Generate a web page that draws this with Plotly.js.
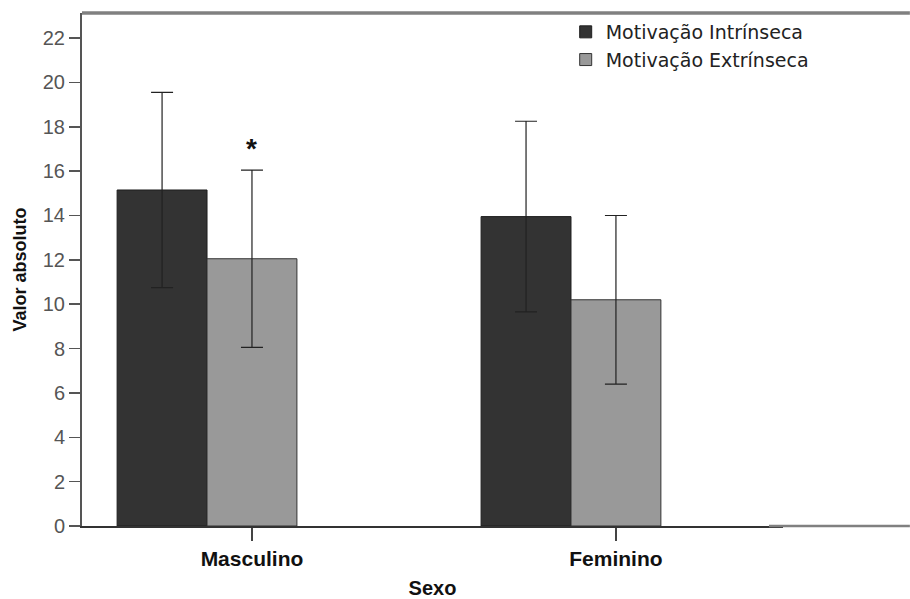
<!DOCTYPE html>
<html>
<head>
<meta charset="utf-8">
<script src="https://cdn.plot.ly/plotly-3.0.1.min.js"></script>
<style>html,body{margin:0;padding:0;background:#fff;}#chart{width:910px;height:599px;}</style>
</head>
<body>
<div id="chart"></div>
<script>
const categories = ["Masculino", "Feminino"];
const seriesNames = ["Motivação Intrínseca", "Motivação Extrínseca"];
const intrinseca = [15.15, 13.95];
const extrinseca = [12.05, 10.2];
const intrinsecaErr = [4.4, 4.3];
const extrinsecaErr = [4.0, 3.8];
const yTicks = [0, 2, 4, 6, 8, 10, 12, 14, 16, 18, 20, 22];
const significance = {category: "Masculino", y: 17.0, text: "*"};

const barW = 0.247;
const errStyle = {type: "data", visible: true, thickness: 1.2, width: 11, color: "#222"};

const traces = [
  {
    type: "bar", name: seriesNames[0], x: categories, y: intrinseca,
    width: barW, offset: -1.5 * barW,
    marker: {color: "#333333", line: {color: "#1e1e1e", width: 1}},
    error_y: Object.assign({array: intrinsecaErr}, errStyle)
  },
  {
    type: "bar", name: seriesNames[1], x: categories, y: extrinseca,
    width: barW, offset: -0.5 * barW,
    marker: {color: "#999999", line: {color: "#333333", width: 1}},
    error_y: Object.assign({array: extrinsecaErr}, errStyle)
  }
];

const layout = {
  width: 910, height: 599,
  margin: {l: 82, r: 127, t: 13, b: 73},
  paper_bgcolor: "#ffffff", plot_bgcolor: "#ffffff",
  barmode: "overlay",
  showlegend: true,
  legend: {
    x: 0.69, y: 1.0, xanchor: "left", yanchor: "top",
    font: {family: "DejaVu Sans, Arial, sans-serif", size: 19, color: "#222"},
    bgcolor: "rgba(0,0,0,0)", tracegroupgap: 0, itemwidth: 30
  },
  xaxis: {
    type: "category", range: [-0.467, 1.459],
    showline: true, linecolor: "#333", linewidth: 1.5,
    ticks: "outside", ticklen: 13, tickwidth: 1.5, tickcolor: "#444",
    tickfont: {family: "Liberation Sans, Arial, sans-serif", size: 21, color: "#111", weight: "bold"},
    showgrid: false, zeroline: false,
    title: {text: "<b>Sexo</b>", standoff: 20, font: {family: "Liberation Sans, Arial, sans-serif", size: 20, color: "#111"}}
  },
  yaxis: {
    range: [0, 23.13], tickvals: yTicks, ticktext: yTicks.map(String),
    showline: true, linecolor: "#555", linewidth: 2,
    ticks: "outside", ticklen: 11, tickwidth: 1.5, tickcolor: "#555",
    tickfont: {family: "Liberation Sans, Arial, sans-serif", size: 20, color: "#555"},
    showgrid: false, zeroline: false,
    title: {text: "<b>Valor absoluto</b>", standoff: 11, font: {family: "Liberation Sans, Arial, sans-serif", size: 18, color: "#111"}}
  },
  shapes: [
    {type: "line", xref: "paper", yref: "paper", x0: 0, x1: 1.181, y0: 1, y1: 1, line: {color: "#808080", width: 3.5}},
    {type: "line", xref: "paper", yref: "paper", x0: 0.98, x1: 1.181, y0: 0, y1: 0, line: {color: "#808080", width: 2.5}}
  ],
  annotations: [
    {x: significance.category, y: significance.y, xref: "x", yref: "y", text: "<b>" + significance.text + "</b>",
     showarrow: false, font: {family: "Liberation Sans, Arial, sans-serif", size: 28, color: "#111"}}
  ]
};

Plotly.newPlot("chart", traces, layout, {displayModeBar: false, staticPlot: true});
</script>
</body>
</html>
